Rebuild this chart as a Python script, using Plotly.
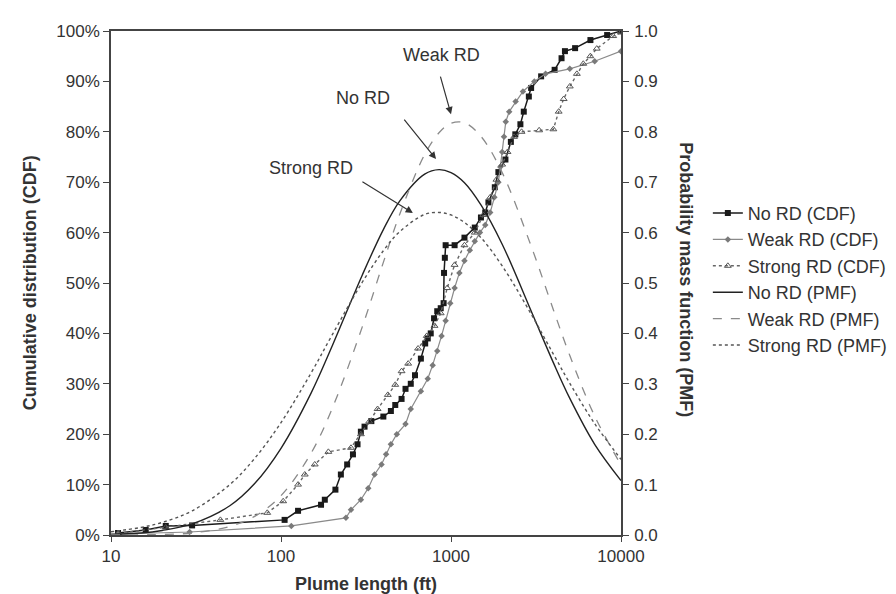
import plotly.graph_objects as go

# ---------------- data ----------------
# Empirical cumulative distributions (plume length in ft, cumulative fraction in %)
norc_x = [11, 16, 21, 30, 105, 126, 172, 181, 209, 225, 245, 265, 282, 295, 310, 340, 400, 443, 470,
          512, 540, 580, 614, 665, 705, 730, 760, 795, 830, 870, 905, 910, 920, 930, 1050, 1200, 1380,
          1500, 1590, 1660, 1810, 1900, 2090, 2250, 2390, 2560, 2680, 2870, 2960, 3390, 4070, 4470,
          4680, 5370, 6610, 8290, 10000]
norc_y = [0.4, 1.0, 1.8, 1.9, 3.0, 4.8, 6.0, 7.0, 9.0, 12.0, 14.0, 16.0, 18.0, 20.5, 21.5, 22.6, 23.5,
          24.6, 25.8, 27.0, 29.0, 30.0, 31.7, 35.0, 38.0, 39.0, 40.0, 43.0, 44.4, 45.0, 46.0, 52.0,
          55.0, 57.5, 57.5, 59.0, 61.0, 63.0, 64.0, 66.0, 69.0, 72.0, 74.5, 78.0, 79.5, 81.5, 84.0,
          87.0, 88.7, 91.0, 92.3, 94.6, 96.0, 96.6, 98.2, 99.2, 100.0]

weak_x = [11, 29, 115, 241, 258, 295, 326, 355, 390, 415, 443, 480, 540, 580, 665, 730, 780, 830, 880,
          930, 990, 1050, 1120, 1200, 1290, 1380, 1480, 1590, 1700, 1800, 1900, 1950, 2000, 2050,
          2100, 2200, 2400, 2650, 3090, 3600, 5000, 7000, 10000]
weak_y = [0.2, 0.6, 1.8, 3.4, 5.0, 7.0, 9.3, 12.0, 14.0, 16.0, 18.0, 20.0, 22.0, 25.0, 28.5, 31.0,
          33.7, 36.5, 39.5, 42.5, 46.0, 49.0, 52.0, 54.4, 56.5, 58.3, 60.0, 61.5, 64.0, 67.0, 70.0,
          73.0, 76.0, 79.0, 82.0, 84.0, 86.0, 88.0, 90.0, 91.5, 92.5, 94.0, 96.0]

strong_x = [11, 21, 44, 83, 103, 126, 138, 158, 190, 258, 295, 330, 370, 425, 470, 512, 560, 640, 720,
            800, 870, 950, 1050, 1200, 1380, 1550, 1700, 1850, 2000, 2150, 2350, 2600, 3300, 4000,
            4300, 4600, 5000, 5500, 6000, 6600, 7200, 9000, 10000]
strong_y = [0.3, 1.5, 3.0, 4.4, 6.7, 10.0, 12.0, 14.0, 16.5, 17.3, 20.0, 22.5, 25.0, 27.8, 29.8, 32.5,
            34.0, 37.0, 39.5, 41.5, 44.0, 49.0, 53.6, 57.5, 60.0, 63.5, 67.0, 70.5, 73.5, 76.0, 79.0,
            80.0, 80.3, 80.5, 84.0, 86.5, 89.0, 91.5, 93.5, 95.0, 96.5, 99.0, 99.7]

# Probability mass functions
pmf_x = [10, 15, 20, 30, 50, 70, 100, 150, 200, 300, 400, 500, 700, 850, 1000, 1200, 1500, 2000,
         3000, 4000, 5000, 7000, 10000]
pmf_no = [0.0015, 0.004, 0.009, 0.022, 0.058, 0.102, 0.172, 0.281, 0.375, 0.515, 0.606, 0.663,
          0.716, 0.725, 0.719, 0.699, 0.655, 0.577, 0.440, 0.342, 0.271, 0.180, 0.108]
pmf_weak = [0.000, 0.0005, 0.001, 0.004, 0.017, 0.037, 0.078, 0.162, 0.251, 0.412, 0.541, 0.637,
            0.755, 0.798, 0.817, 0.818, 0.791, 0.719, 0.568, 0.447, 0.356, 0.236, 0.139]
pmf_strong = [0.0065, 0.015, 0.025, 0.048, 0.100, 0.152, 0.223, 0.321, 0.397, 0.501, 0.564, 0.602,
              0.636, 0.640, 0.635, 0.620, 0.590, 0.534, 0.435, 0.359, 0.301, 0.221, 0.150]

x_ticks = [10, 100, 1000, 10000]
x_ticktext = ["10", "100", "1000", "10000"]

# ---------------- figure ----------------
FONT = "Liberation Sans, Arial, sans-serif"
TXT = "#333333"
fig = go.Figure()

fig.add_trace(go.Scatter(x=norc_x, y=[v / 100 for v in norc_y], name="No RD (CDF)", mode="lines+markers",
                         line=dict(color="#1a1a1a", width=1.5),
                         marker=dict(symbol="square", size=6, color="#1a1a1a")))
fig.add_trace(go.Scatter(x=weak_x, y=[v / 100 for v in weak_y], name="Weak RD (CDF)", mode="lines+markers",
                         line=dict(color="#8a8a8a", width=1.2),
                         marker=dict(symbol="diamond", size=5, color="#7a7a7a")))
fig.add_trace(go.Scatter(x=strong_x, y=[v / 100 for v in strong_y], name="Strong RD (CDF)", mode="lines+markers",
                         line=dict(color="#666666", width=1.4, dash="dot"),
                         marker=dict(symbol="triangle-up-open", size=6, color="#555555", line=dict(width=1))))

fig.add_trace(go.Scatter(x=pmf_x, y=pmf_no, name="No RD (PMF)", mode="lines", yaxis="y2",
                         line=dict(color="#222222", width=1.4, shape="spline")))
fig.add_trace(go.Scatter(x=pmf_x, y=pmf_weak, name="Weak RD (PMF)", mode="lines", yaxis="y2",
                         line=dict(color="#8a8a8a", width=1.3, dash="dash", shape="spline")))
fig.add_trace(go.Scatter(x=pmf_x, y=pmf_strong, name="Strong RD (PMF)", mode="lines", yaxis="y2",
                         line=dict(color="#555555", width=1.4, dash="dot", shape="spline")))

annotations = [
    # arrows
    dict(x=3.0, y=0.835, xref="x", yref="y", ax=-11, ay=-39, text="", showarrow=True,
         arrowhead=2, arrowsize=1.2, arrowwidth=1.2, arrowcolor="#333"),
    dict(x=2.912, y=0.746, xref="x", yref="y", ax=-33, ay=-41, text="", showarrow=True,
         arrowhead=2, arrowsize=1.2, arrowwidth=1.2, arrowcolor="#333"),
    dict(x=2.776, y=0.639, xref="x", yref="y", ax=-52, ay=-32, text="", showarrow=True,
         arrowhead=2, arrowsize=1.2, arrowwidth=1.2, arrowcolor="#333"),
    # labels
    dict(x=2.947, y=0.952, xref="x", yref="y", text="Weak RD", showarrow=False,
         xanchor="center", yanchor="middle", font=dict(family=FONT, size=18, color=TXT)),
    dict(x=2.482, y=0.867, xref="x", yref="y", text="No RD", showarrow=False,
         xanchor="center", yanchor="middle", font=dict(family=FONT, size=18, color=TXT)),
    dict(x=2.176, y=0.728, xref="x", yref="y", text="Strong RD", showarrow=False,
         xanchor="center", yanchor="middle", font=dict(family=FONT, size=18, color=TXT)),
    # axis titles
    dict(x=-0.1585, y=0.5, xref="paper", yref="paper", text="<b>Cumulative distribution (CDF)</b>",
         textangle=-90, showarrow=False, xanchor="center", yanchor="middle",
         font=dict(family=FONT, size=18, color=TXT)),
    dict(x=1.127, y=0.506, xref="paper", yref="paper", text="<b>Probability mass function (PMF)</b>",
         textangle=90, showarrow=False, xanchor="center", yanchor="middle",
         font=dict(family=FONT, size=18, color=TXT)),
]

fig.update_layout(
    width=896, height=594,
    margin=dict(l=103, r=282, t=23, b=67),
    paper_bgcolor="white", plot_bgcolor="white",
    font=dict(family=FONT, size=17, color=TXT),
    showlegend=True,
    legend=dict(x=1.168, y=0.675, xanchor="left", yanchor="top", bgcolor="rgba(0,0,0,0)",
                font=dict(family=FONT, size=18, color=TXT), tracegroupgap=0),
    annotations=annotations,
    xaxis=dict(type="log", range=[1, 4], tickvals=x_ticks, ticktext=x_ticktext,
               ticks="outside", ticklen=5, tickcolor="#444", showline=True, linecolor="#444",
               linewidth=1.5, mirror=True, showgrid=False, zeroline=False,
               title=dict(text="<b>Plume length (ft)</b>", font=dict(size=18), standoff=12)),
    yaxis=dict(range=[0, 1], dtick=0.1, tickformat=".0%", ticks="outside", ticklen=6, tickcolor="#444",
               showline=True, linecolor="#444", linewidth=1.5, showgrid=False, zeroline=False),
    yaxis2=dict(range=[0, 1], dtick=0.1, tickformat=".1f", overlaying="y", side="right",
                ticks="outside", ticklen=6, tickcolor="#444", showline=True, linecolor="#444",
                linewidth=1.5, showgrid=False, zeroline=False, ticklabelstandoff=2),
)

fig.write_html("out.html")
